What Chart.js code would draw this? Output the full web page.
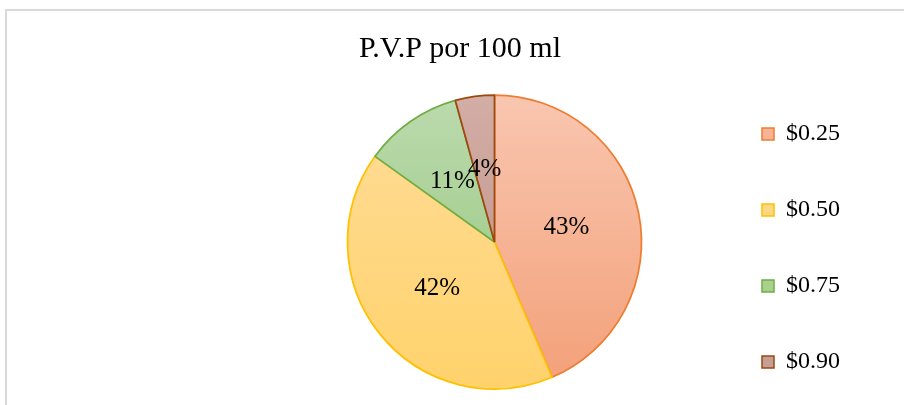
<!DOCTYPE html>
<html>
<head>
<meta charset="utf-8">
<script src="https://cdn.jsdelivr.net/npm/chart.js@4.4.0/dist/chart.umd.min.js"></script>
<style>
  html, body { margin: 0; padding: 0; background: #fff; overflow: hidden; }
  #marco { position: absolute; left: 5px; top: 9px; width: 1000px; height: 500px; border: 2px solid #d9d9d9; box-sizing: border-box; }
  #grafica { position: absolute; left: 0; top: 0; }
</style>
</head>
<body>
<div id="marco"></div>
<canvas id="grafica" width="904" height="405"></canvas>
<script>
// Datos
const categorias = ['$0.25', '$0.50', '$0.75', '$0.90'];
const participacion = [43.6, 41.3, 10.8, 4.3];
const etiquetas = ['43%', '42%', '11%', '4%'];

// Colores estilo Excel
const bordes = ['#ed7d31', '#ffc000', '#70ad47', '#9e480e'];
const claros = ['#f9c6b0', '#ffdd99', '#bcdaae', '#d3aea6'];
const oscuros = ['#f3a078', '#ffd26c', '#91c578', '#ba8c82'];
const solidos = ['#f6b398', '#ffd886', '#a9d18e', '#c59e95'];

const RADIO = 147;

// Relleno degradado de arriba hacia abajo
function relleno(context) {
    const chart = context.chart;
    const area = chart.chartArea;
    const i = context.dataIndex;
    if (!area) return solidos[i];
    const cy = (area.top + area.bottom) / 2;
    const g = chart.ctx.createLinearGradient(0, cy - RADIO, 0, cy + RADIO);
    g.addColorStop(0, claros[i]);
    g.addColorStop(1, oscuros[i]);
    return g;
}

// Porcentajes dentro de cada porcion
const etiquetasPlugin = {
    id: 'etiquetas',
    afterDatasetsDraw(chart) {
        const ctx = chart.ctx;
        const meta = chart.getDatasetMeta(0);
        ctx.save();
        ctx.font = '25px "Liberation Serif", serif';
        ctx.fillStyle = '#000';
        ctx.textAlign = 'center';
        ctx.textBaseline = 'middle';
        meta.data.forEach((arc, i) => {
            const p = arc.getCenterPoint();
            ctx.fillText(etiquetas[i], p.x, p.y);
        });
        ctx.restore();
    }
};

Chart.defaults.font.family = '"Liberation Serif", "Times New Roman", serif';
Chart.defaults.color = '#000';

const ctx = document.getElementById('grafica').getContext('2d');
window.myChart = new Chart(ctx, {
    type: 'pie',
    data: {
        labels: categorias,
        datasets: [{
            data: participacion,
            backgroundColor: relleno,
            borderColor: bordes,
            borderWidth: 1.75,
            radius: RADIO
        }]
    },
    options: {
        responsive: false,
        devicePixelRatio: 1,
        animation: false,
        layout: {
            padding: { left: 70, right: 54, top: 0, bottom: -21 }
        },
        plugins: {
            title: {
                display: true,
                text: 'P.V.P por 100 ml',
                color: '#000',
                font: { size: 30, weight: 'normal', lineHeight: '20px' },
                padding: { top: 39, bottom: 20 }
            },
            // espacio vacio a la izquierda del pastel
            subtitle: {
                display: true,
                text: '',
                position: 'left',
                font: { size: 10, lineHeight: 1 },
                padding: { top: 0, bottom: 199 }
            },
            legend: {
                position: 'right',
                align: 'end',
                labels: {
                    boxWidth: 12,
                    boxHeight: 12,
                    padding: 52,
                    color: '#000',
                    font: { size: 24 },
                    generateLabels: () => categorias.map((c, i) => ({
                        text: c,
                        fillStyle: solidos[i],
                        strokeStyle: bordes[i],
                        lineWidth: 1.5,
                        hidden: false,
                        index: i
                    }))
                }
            },
            tooltip: { enabled: false }
        }
    },
    plugins: [etiquetasPlugin]
});
</script>
</body>
</html>
